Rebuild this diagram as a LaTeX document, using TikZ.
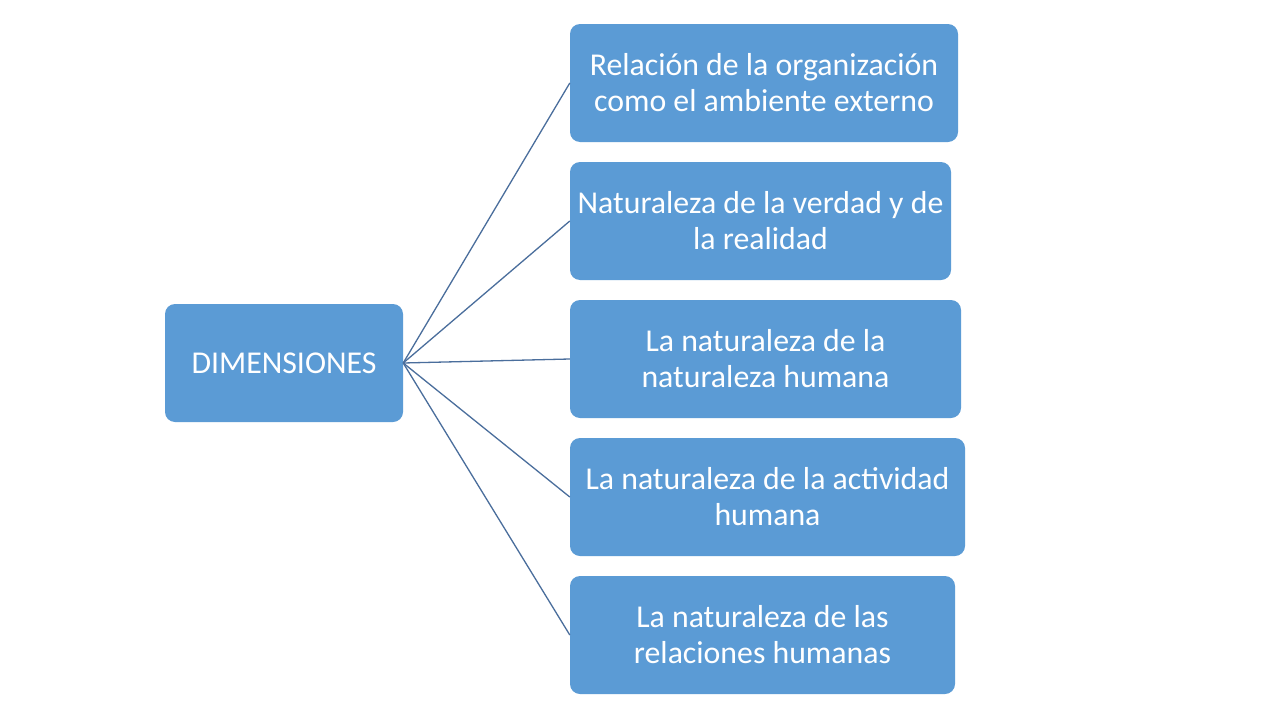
\documentclass[tikz,border=0pt]{standalone}
\usepackage{fontspec}
\setmainfont{Carlito}
\definecolor{boxblue}{HTML}{5B9BD5}
\definecolor{linkblue}{HTML}{4A6E9C}
\begin{document}
\begin{tikzpicture}[x=1pt,y=-1pt,
  box/.style={fill=boxblue, draw=none, rounded corners=10pt, text=white,
    inner sep=0pt, align=center, font=\fontsize{31.8}{36}\selectfont},
  link/.style={draw=linkblue, line width=1.3pt}]
\useasboundingbox[fill=white] (0,0) rectangle (1280,720);
\node[box, minimum width=238pt, minimum height=118pt] (dim) at (284,363) {DIMENSIONES};
\node[box, minimum width=388pt, minimum height=118pt] (b1) at (764,83) {Relación de la organización\\como el ambiente externo};
\node[box, minimum width=381pt, minimum height=118pt] (b2) at (760.5,221) {Naturaleza de la verdad y de\\la realidad};
\node[box, minimum width=391pt, minimum height=118pt] (b3) at (765.5,359) {La naturaleza de la\\naturaleza humana};
\node[box, minimum width=395pt, minimum height=118pt] (b4) at (767.5,497) {La naturaleza de la actividad\\humana};
\node[box, minimum width=385pt, minimum height=118pt] (b5) at (762.5,635) {La naturaleza de las\\relaciones humanas};
\foreach \b in {b1,b2,b3,b4,b5}
  \draw[link] (dim.east) -- (\b.west);
\end{tikzpicture}
\end{document}
